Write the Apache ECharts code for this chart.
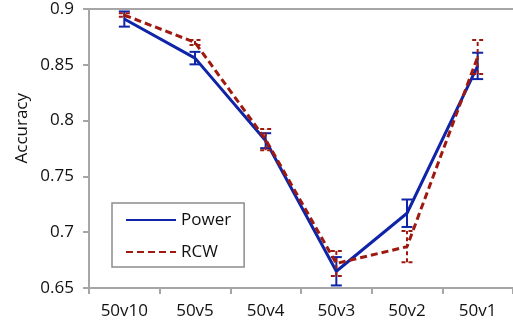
<!DOCTYPE html>
<html><head><meta charset="utf-8">
<script src="https://cdn.jsdelivr.net/npm/echarts@6/dist/echarts.min.js"></script>
<style>html,body{margin:0;padding:0;background:#fff}#c{width:513px;height:329px}</style>
</head><body><div id="c"></div>
<script>
const categories = ['50v10', '50v5', '50v4', '50v3', '50v2', '50v1'];
const powerValues = [0.891, 0.856, 0.782, 0.665, 0.717, 0.849];
const powerErr = [0.0068, 0.0056, 0.0067, 0.0127, 0.0123, 0.0118];
const rcwValues = [0.8946, 0.870, 0.783, 0.672, 0.687, 0.857];
const rcwErr = [0.0016, 0.0023, 0.0095, 0.0112, 0.014, 0.0152];
const yTicks = [0.65, 0.7, 0.75, 0.8, 0.85, 0.9];

const BLUE = '#1024a8';
const RED = '#9e1a10';
const GRAY = '#a6a6a6';
const FONT = 'Open Sans';

function errData(vals, errs) {
  return vals.map((v, i) => [i, v - errs[i], v + errs[i]]);
}
function errRender(color, dash) {
  return function (params, api) {
    const x = api.value(0);
    const lo = api.coord([x, api.value(1)]);
    const hi = api.coord([x, api.value(2)]);
    const hw = 5.5;
    const style = { stroke: color, lineWidth: 2, lineDash: dash, fill: null };
    return {
      type: 'group',
      children: [
        { type: 'line', shape: { x1: lo[0], y1: lo[1], x2: hi[0], y2: hi[1] }, style },
        { type: 'line', shape: { x1: lo[0] - hw, y1: lo[1], x2: lo[0] + hw, y2: lo[1] }, style },
        { type: 'line', shape: { x1: hi[0] - hw, y1: hi[1], x2: hi[0] + hw, y2: hi[1] }, style }
      ]
    };
  };
}

const chart = echarts.init(document.getElementById('c'), null, { renderer: 'canvas' });
chart.setOption({
  animation: false,
  grid: { left: 89, right: 0, top: 9, bottom: 41 },
  legend: {
    orient: 'vertical',
    left: 112, top: 203,
    padding: [7, 13, 5, 13],
    itemGap: 12,
    itemWidth: 50, itemHeight: 14,
    borderColor: '#8c8c8c', borderWidth: 1.5,
    itemStyle: { opacity: 0 },
    textStyle: { fontFamily: FONT, fontSize: 17, color: '#111', lineHeight: 20 },
    data: ['Power', 'RCW']
  },
  xAxis: [{
    type: 'category',
    data: categories,
    boundaryGap: true,
    axisLine: { lineStyle: { color: GRAY, width: 2 } },
    axisTick: { show: true, length: 6, lineStyle: { color: GRAY, width: 2 } },
    axisLabel: { fontFamily: FONT, fontSize: 17, color: '#111', margin: 15 }
  }, {
    type: 'category',
    data: categories,
    position: 'top',
    axisLine: { lineStyle: { color: GRAY, width: 2 } },
    axisTick: { show: false },
    axisLabel: { show: false }
  }],
  yAxis: {
    type: 'value',
    min: yTicks[0], max: yTicks[yTicks.length - 1], interval: 0.05,
    axisLine: { show: true, lineStyle: { color: GRAY, width: 2 } },
    axisTick: { show: true, inside: false, length: 6, lineStyle: { color: GRAY, width: 2 } },
    splitLine: { show: false },
    axisLabel: { fontFamily: FONT, fontSize: 17, color: '#111', margin: 15,
      formatter: v => String(parseFloat(v.toFixed(2))) }
  },
  graphic: [{
    type: 'text',
    left: 14, top: 93,
    rotation: Math.PI / 2,
    style: { text: 'Accuracy', fontFamily: FONT, fontSize: 17, fill: '#111' }
  }],
  series: [
    {
      name: 'Power', type: 'line', data: powerValues, symbol: 'none',
      lineStyle: { color: BLUE, width: 3 }, itemStyle: { color: BLUE }, z: 3
    },
    {
      type: 'custom', data: errData(powerValues, powerErr),
      renderItem: errRender(BLUE, null), z: 3, silent: true
    },
    {
      name: 'RCW', type: 'line', data: rcwValues, symbol: 'none',
      lineStyle: { color: RED, width: 3, type: [7, 4] }, itemStyle: { color: RED }, z: 4
    },
    {
      type: 'custom', data: errData(rcwValues, rcwErr),
      renderItem: errRender(RED, [4, 3]), z: 4, silent: true
    }
  ]
});
</script></body></html>
